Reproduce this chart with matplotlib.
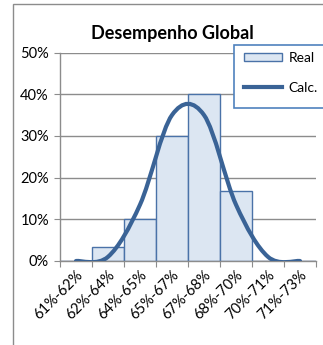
import matplotlib
matplotlib.use("Agg")
import matplotlib.pyplot as plt
import numpy as np
from matplotlib.path import Path
from matplotlib.patches import PathPatch, Rectangle
from matplotlib.lines import Line2D

plt.rcParams['font.family'] = ['Lato', 'DejaVu Sans']

categories = ["61%-62%", "62%-64%", "64%-65%", "65%-67%", "67%-68%", "68%-70%", "70%-71%", "71%-73%"]
real = [0.0, 3.33, 10.0, 30.0, 40.0, 16.67, 0.0, 0.0]
calc = [0.0, 1.0, 13.5, 35.0, 35.0, 13.5, 1.0, 0.0]
yticks = [0, 10, 20, 30, 40, 50]

W, H = 323, 345
fig = plt.figure(figsize=(W / 100, H / 100), dpi=100)

# outer chart-area frame
fig.patches.append(Rectangle((13 / W, -0.1), 1.2, (H - 4) / H + 0.1, transform=fig.transFigure,
                             facecolor='none', edgecolor='#8c8c8c', linewidth=1.0, zorder=0))

ax_l, ax_r = 60 / W, 316 / W
y0, y50 = 261, 52.5
ax = fig.add_axes([ax_l, (H - y0) / H, ax_r - ax_l, (y0 - y50) / H])

x = np.arange(len(categories))
bar_fill = '#dce6f2'
bar_edge = '#4a72a8'
line_col = '#3a6396'

ax.bar(x, real, width=1.0, color=bar_fill, edgecolor=bar_edge, linewidth=1.0, zorder=2)

# smoothed line through category centres (Catmull-Rom style Bezier segments)
px = x.astype(float)
py = np.array(calc, dtype=float)
verts = [(px[0], py[0])]
codes = [Path.MOVETO]
n = len(px)
for i in range(n - 1):
    p0 = np.array([px[max(i - 1, 0)], py[max(i - 1, 0)]])
    p1 = np.array([px[i], py[i]])
    p2 = np.array([px[i + 1], py[i + 1]])
    p3 = np.array([px[min(i + 2, n - 1)], py[min(i + 2, n - 1)]])
    c1 = p1 + (p2 - p0) / 6.0
    c2 = p2 - (p3 - p1) / 6.0
    verts += [tuple(c1), tuple(c2), tuple(p2)]
    codes += [Path.CURVE4] * 3
ax.add_patch(PathPatch(Path(verts, codes), facecolor='none', edgecolor=line_col,
                       linewidth=3.0, capstyle='round', zorder=3))

ax.set_xlim(-0.5, len(categories) - 0.5)
ax.set_ylim(0, 50)
ax.set_yticks(yticks)
ax.set_yticklabels([f"{v}%" for v in yticks], fontsize=10.5)
ax.yaxis.grid(True, color='#8c8c8c', linewidth=1.0, zorder=0)
ax.set_axisbelow(True)

ax.set_xticks(np.arange(len(categories) + 1) - 0.5, minor=False)
ax.set_xticklabels([])
ax.set_xticks(x, minor=True)
ax.set_xticklabels(categories, minor=True, rotation=45, ha='right', va='top',
                   rotation_mode='anchor', fontsize=10.5)
ax.tick_params(axis='x', which='minor', length=0, pad=5)
ax.tick_params(axis='x', which='major', length=4, color='#8c8c8c', direction='out')
ax.tick_params(axis='y', length=4, color='#8c8c8c', pad=4)

for s in ['top', 'right']:
    ax.spines[s].set_visible(False)
for s in ['left', 'bottom']:
    ax.spines[s].set_color('#8c8c8c')
    ax.spines[s].set_linewidth(1.0)

fig.text(172 / W, (H - 33) / H, "Desempenho Global", ha='center', va='center',
         fontsize=13, fontweight='bold')

# legend box
fig.patches.append(Rectangle((234 / W, (H - 108) / H), 0.5, 63 / H, transform=fig.transFigure,
                             facecolor='white', edgecolor='#4f81bd', linewidth=1.2, zorder=5))
handles = [Rectangle((0, 0), 1, 1, facecolor=bar_fill, edgecolor=bar_edge, linewidth=1.0),
           Line2D([0], [0], color=line_col, linewidth=3.0)]
leg = fig.legend(handles, ["Real", "Calc."], loc='upper left',
                 bbox_to_anchor=(238 / W, (H - 46) / H), frameon=False, fontsize=10,
                 handlelength=2.8, handleheight=0.5, labelspacing=1.3, handletextpad=0.45,
                 borderaxespad=0)
leg.set_zorder(6)

fig.savefig("out.png", dpi=100)
